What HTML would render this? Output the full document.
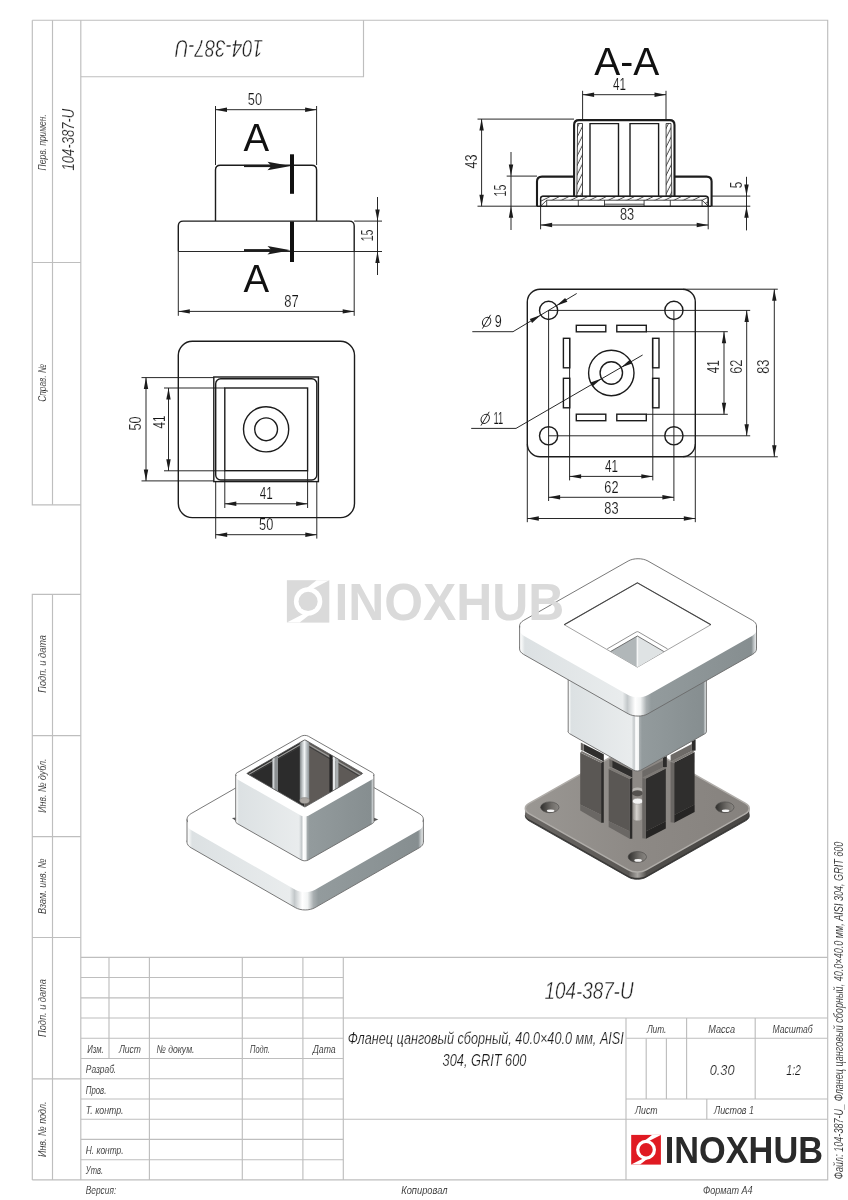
<!DOCTYPE html>
<html lang="ru"><head><meta charset="utf-8"><title>104-387-U</title>
<style>
html,body{margin:0;padding:0;background:#fff}
svg{display:block;will-change:transform}
.f{stroke:#bebebe;stroke-width:1.15;fill:none;shape-rendering:auto}
.t{stroke:#1c1c1c;stroke-width:.95;fill:none}
.o{stroke:#1c1c1c;stroke-width:1.4;fill:none}
.k{stroke:#1c1c1c;stroke-width:2.1;fill:none;stroke-linejoin:round}
.h{stroke:#1c1c1c;stroke-width:.8;fill:none}
.ar{fill:#1c1c1c;stroke:none}
.g{font-family:"Liberation Sans",sans-serif;font-style:italic;fill:#1f1f1f;stroke:#fff;stroke-width:.4}
.gs{font-family:"Liberation Sans",sans-serif;font-style:italic;fill:#1a1a1a;stroke:#fff;stroke-width:.12}
.gm{font-family:"Liberation Sans",sans-serif;font-style:italic;fill:#181818;stroke:#fff;stroke-width:.2}
.d{font-family:"Liberation Sans",sans-serif;fill:#141414;stroke:#fff;stroke-width:.16}
.n{font-family:"Liberation Sans",sans-serif;fill:#111}
.b{font-family:"Liberation Sans",sans-serif;font-weight:bold}
</style></head>
<body>
<svg width="848" height="1200" viewBox="0 0 848 1200">
<g class="f">
<path d="M32.3,20.2 H827.7 V1179.9 H32.3"/>
<line x1="80.8" y1="20.2" x2="80.8" y2="1179.9"/>
<path d="M32.3,20.2 V504.8 H80.8"/>
<line x1="52.5" y1="20.2" x2="52.5" y2="504.8"/>
<line x1="32.3" y1="262.5" x2="80.8" y2="262.5"/>
<path d="M80.8,594.3 H32.3 V1179.9"/>
<line x1="52.5" y1="594.3" x2="52.5" y2="1179.9"/>
<line x1="32.3" y1="735.6" x2="80.8" y2="735.6"/>
<line x1="32.3" y1="836.6" x2="80.8" y2="836.6"/>
<line x1="32.3" y1="937.5" x2="80.8" y2="937.5"/>
<line x1="32.3" y1="1078.9" x2="80.8" y2="1078.9"/>
<path d="M80.8,76.7 H363.5 V20.2"/>
<line x1="80.8" y1="957.3" x2="827.7" y2="957.3"/>
<line x1="80.8" y1="977.5" x2="343.3" y2="977.5"/>
<line x1="80.8" y1="997.8" x2="343.3" y2="997.8"/>
<line x1="80.8" y1="1018.0" x2="343.3" y2="1018.0"/>
<line x1="80.8" y1="1038.2" x2="343.3" y2="1038.2"/>
<line x1="80.8" y1="1058.5" x2="343.3" y2="1058.5"/>
<line x1="80.8" y1="1078.7" x2="343.3" y2="1078.7"/>
<line x1="80.8" y1="1099.0" x2="343.3" y2="1099.0"/>
<line x1="80.8" y1="1119.2" x2="343.3" y2="1119.2"/>
<line x1="80.8" y1="1139.4" x2="343.3" y2="1139.4"/>
<line x1="80.8" y1="1159.7" x2="343.3" y2="1159.7"/>
<line x1="109" y1="957.3" x2="109" y2="1058.5"/>
<line x1="149.4" y1="957.3" x2="149.4" y2="1179.9"/>
<line x1="242.3" y1="957.3" x2="242.3" y2="1179.9"/>
<line x1="302.9" y1="957.3" x2="302.9" y2="1179.9"/>
<line x1="343.3" y1="957.3" x2="343.3" y2="1179.9"/>
<line x1="343.3" y1="1018.0" x2="827.7" y2="1018.0"/>
<line x1="343.3" y1="1119.2" x2="827.7" y2="1119.2"/>
<line x1="626" y1="1018.0" x2="626" y2="1179.9"/>
<line x1="626" y1="1038.2" x2="827.7" y2="1038.2"/>
<line x1="626" y1="1099.0" x2="827.7" y2="1099.0"/>
<line x1="646.2" y1="1038.2" x2="646.2" y2="1099.0"/>
<line x1="666.4" y1="1038.2" x2="666.4" y2="1099.0"/>
<line x1="686.6" y1="1018.0" x2="686.6" y2="1099.0"/>
<line x1="755.2" y1="1018.0" x2="755.2" y2="1099.0"/>
<line x1="706.8" y1="1099.0" x2="706.8" y2="1119.2"/>
</g>
<text class="gs" transform="translate(45.6,170.4) rotate(-90)" font-size="11.5" text-anchor="start" textLength="56.2" lengthAdjust="spacingAndGlyphs">Перв. примен.</text>
<text class="gs" transform="translate(45.6,401.7) rotate(-90)" font-size="11.5" text-anchor="start" textLength="37.7" lengthAdjust="spacingAndGlyphs">Справ. №</text>
<text class="gs" transform="translate(45.6,692.8) rotate(-90)" font-size="11.5" text-anchor="start" textLength="57.8" lengthAdjust="spacingAndGlyphs">Подп. и дата</text>
<text class="gs" transform="translate(45.6,812.7) rotate(-90)" font-size="11.5" text-anchor="start" textLength="54.2" lengthAdjust="spacingAndGlyphs">Инв. № дубл.</text>
<text class="gs" transform="translate(45.6,914) rotate(-90)" font-size="11.5" text-anchor="start" textLength="55.5" lengthAdjust="spacingAndGlyphs">Взам. инв. №</text>
<text class="gs" transform="translate(45.6,1037) rotate(-90)" font-size="11.5" text-anchor="start" textLength="57.8" lengthAdjust="spacingAndGlyphs">Подп. и дата</text>
<text class="gs" transform="translate(45.6,1157) rotate(-90)" font-size="11.5" text-anchor="start" textLength="55.5" lengthAdjust="spacingAndGlyphs">Инв. № подл.</text>
<text class="gm" transform="translate(73.8,170.4) rotate(-90)" font-size="16.8" text-anchor="start" textLength="61.7" lengthAdjust="spacingAndGlyphs">104-387-U</text>
<text class="g" transform="translate(263,39.9) rotate(180)" font-size="23.7" text-anchor="start" textLength="88" lengthAdjust="spacingAndGlyphs">104-387-U</text>
<text class="gs" x="87.2" y="1053.08" font-size="11.5" text-anchor="start" textLength="16.5" lengthAdjust="spacingAndGlyphs">Изм.</text>
<text class="gs" x="118.9" y="1053.08" font-size="11.5" text-anchor="start" textLength="22" lengthAdjust="spacingAndGlyphs">Лист</text>
<text class="gs" x="156.5" y="1053.08" font-size="11.5" text-anchor="start" textLength="38" lengthAdjust="spacingAndGlyphs">№ докум.</text>
<text class="gs" x="250" y="1053.08" font-size="11.5" text-anchor="start" textLength="19.8" lengthAdjust="spacingAndGlyphs">Подп.</text>
<text class="gs" x="312.7" y="1053.08" font-size="11.5" text-anchor="start" textLength="23" lengthAdjust="spacingAndGlyphs">Дата</text>
<text class="gs" x="85.8" y="1073.3159999999998" font-size="11.5" text-anchor="start" textLength="30.4" lengthAdjust="spacingAndGlyphs">Разраб.</text>
<text class="gs" x="85.8" y="1093.552" font-size="11.5" text-anchor="start" textLength="20.5" lengthAdjust="spacingAndGlyphs">Пров.</text>
<text class="gs" x="85.8" y="1113.7879999999998" font-size="11.5" text-anchor="start" textLength="37.7" lengthAdjust="spacingAndGlyphs">Т. контр.</text>
<text class="gs" x="85.8" y="1154.2599999999998" font-size="11.5" text-anchor="start" textLength="37.7" lengthAdjust="spacingAndGlyphs">Н. контр.</text>
<text class="gs" x="85.8" y="1174.4959999999999" font-size="11.5" text-anchor="start" textLength="17.2" lengthAdjust="spacingAndGlyphs">Утв.</text>
<text class="gs" x="85.8" y="1194.1" font-size="11.5" text-anchor="start" textLength="30.4" lengthAdjust="spacingAndGlyphs">Версия:</text>
<text class="gs" x="401.2" y="1194.1" font-size="11.5" text-anchor="start" textLength="46.3" lengthAdjust="spacingAndGlyphs">Копировал</text>
<text class="gs" x="703" y="1194.1" font-size="11.5" text-anchor="start" textLength="49.6" lengthAdjust="spacingAndGlyphs">Формат A4</text>
<text class="gs" x="646.9" y="1032.8439999999998" font-size="11.5" text-anchor="start" textLength="19.5" lengthAdjust="spacingAndGlyphs">Лит.</text>
<text class="gs" x="708.2" y="1032.8439999999998" font-size="11.5" text-anchor="start" textLength="27" lengthAdjust="spacingAndGlyphs">Масса</text>
<text class="gs" x="772.6" y="1032.8439999999998" font-size="11.5" text-anchor="start" textLength="40" lengthAdjust="spacingAndGlyphs">Масштаб</text>
<text class="gs" x="635.1" y="1113.7879999999998" font-size="11.5" text-anchor="start" textLength="22.5" lengthAdjust="spacingAndGlyphs">Лист</text>
<text class="gs" x="714" y="1113.7879999999998" font-size="11.5" text-anchor="start" textLength="40" lengthAdjust="spacingAndGlyphs">Листов 1</text>
<text class="gm" x="709.7" y="1075.2" font-size="15.3" text-anchor="start" textLength="24.8" lengthAdjust="spacingAndGlyphs">0.30</text>
<text class="gm" x="786.3" y="1075.2" font-size="15.3" text-anchor="start" textLength="14.7" lengthAdjust="spacingAndGlyphs">1:2</text>
<text class="g" x="544.5" y="999" font-size="23.7" text-anchor="start" textLength="89" lengthAdjust="spacingAndGlyphs">104-387-U</text>
<text class="gm" x="347.8" y="1044.2" font-size="17.2" text-anchor="start" textLength="276" lengthAdjust="spacingAndGlyphs">Фланец цанговый сборный, 40.0×40.0 мм, AISI</text>
<text class="gm" x="442.6" y="1066.1" font-size="17.2" text-anchor="start" textLength="83.8" lengthAdjust="spacingAndGlyphs">304, GRIT 600</text>
<text class="gs" transform="translate(842.6,1179.2) rotate(-90)" font-size="12.6" text-anchor="start" textLength="337.6" lengthAdjust="spacingAndGlyphs">Файл: 104-387-U_ Фланец цанговый сборный, 40.0×40.0 мм, AISI 304, GRIT 600</text>
<g transform="translate(631.2,1134.9) scale(29.7)">
<rect width="1" height="1" fill="#e01a22"/>
<polygon points="0.70,0 1,0 0.5,0.26 0.5,0.5 0.19,0.40" fill="#fff"/>
<polygon points="0.30,1 0,1 0.5,0.74 0.5,0.5 0.81,0.60" fill="#fff"/>
<circle cx="0.5" cy="0.5" r="0.335" fill="#fff"/>
<circle cx="0.5" cy="0.5" r="0.225" fill="#e01a22"/>
</g>
<text class="b" x="664.7" y="1163" font-size="36.3" fill="#2a2a2a" textLength="158.3" lengthAdjust="spacingAndGlyphs">INOXHUB</text>
<path class="o" d="M215.5,221 V170 Q215.5,165.2 220.3,165.2 H311.8 Q316.6,165.2 316.6,170 V221"/>
<path class="o" d="M178.3,251.5 V226 Q178.3,221.1 183.2,221.1 H349.3 Q354.2,221.1 354.2,226 V251.5"/>
<line class="t" x1="178.3" y1="251.5" x2="382" y2="251.5"/>
<line class="t" x1="354.2" y1="221.1" x2="382" y2="221.1"/>
<line class="t" x1="178.3" y1="251.5" x2="178.3" y2="315.8"/>
<line class="t" x1="354.2" y1="251.5" x2="354.2" y2="315.8"/>
<line class="t" x1="178.3" y1="311.4" x2="354.2" y2="311.4"/>
<polygon class="ar" points="178.30,311.40 189.80,309.20 189.80,313.60"/>
<polygon class="ar" points="354.20,311.40 342.70,313.60 342.70,309.20"/>
<text class="d" x="291.4" y="306.7" font-size="16.8" text-anchor="middle" textLength="14.4" lengthAdjust="spacingAndGlyphs">87</text>
<line class="t" x1="215.5" y1="106" x2="215.5" y2="165"/>
<line class="t" x1="316.6" y1="106" x2="316.6" y2="165"/>
<line class="t" x1="215.5" y1="109.7" x2="316.6" y2="109.7"/>
<polygon class="ar" points="215.50,109.70 227.00,107.50 227.00,111.90"/>
<polygon class="ar" points="316.60,109.70 305.10,111.90 305.10,107.50"/>
<text class="d" x="254.9" y="105" font-size="16.8" text-anchor="middle" textLength="14.2" lengthAdjust="spacingAndGlyphs">50</text>
<line class="t" x1="377.5" y1="197" x2="377.5" y2="275"/>
<polygon class="ar" points="377.50,221.10 375.30,209.60 379.70,209.60"/>
<polygon class="ar" points="377.50,251.50 379.70,263.00 375.30,263.00"/>
<text class="d" transform="translate(372.8,235.4) rotate(-90)" font-size="16.8" text-anchor="middle" textLength="11.8" lengthAdjust="spacingAndGlyphs">15</text>
<line x1="244" y1="166" x2="272" y2="166" stroke="#1c1c1c" stroke-width="2.2"/>
<polygon class="ar" points="290.8,166 267.5,161.8 271.5,166 267.5,170.2"/>
<line x1="292" y1="154.3" x2="292" y2="193.8" stroke="#111" stroke-width="4"/>
<line x1="244" y1="250.2" x2="272" y2="250.2" stroke="#1c1c1c" stroke-width="2.2"/>
<polygon class="ar" points="290.8,250.2 267.5,246.0 271.5,250.2 267.5,254.39999999999998"/>
<line x1="292" y1="221.5" x2="292" y2="262" stroke="#111" stroke-width="4"/>
<text class="n" x="243.6" y="151.2" font-size="38.4">A</text>
<text class="n" x="243.6" y="292" font-size="38.4">A</text>
<text class="n" x="594.2" y="74.9" font-size="39">A-A</text>
<defs><pattern id="ht" width="10" height="4.2" patternUnits="userSpaceOnUse" patternTransform="rotate(-63.4)"><line x1="0" y1="2" x2="10" y2="2" stroke="#1c1c1c" stroke-width=".8"/></pattern><pattern id="ht2" width="10" height="4.2" patternUnits="userSpaceOnUse" patternTransform="rotate(-26.6)"><line x1="0" y1="2" x2="10" y2="2" stroke="#1c1c1c" stroke-width=".8"/></pattern></defs>
<path d="M577.6,123.5 H582.5 V196.2 H576.8 Z" style="fill:url(#ht)" class="h"/>
<path d="M671,123.5 H666.1 V196.2 H671.8 Z" style="fill:url(#ht)" class="h"/>
<path d="M540.6,206.2 V198.4 Q540.6,196.2 542.8,196.2 H706 Q708.2,196.2 708.2,198.4 V206.2 L702.1,200.2 H546.7 Z" style="fill:url(#ht2)" class="h"/>
<path class="o" d="M540.6,206.2 V198.4 Q540.6,196.2 542.8,196.2 H706 Q708.2,196.2 708.2,198.4 V206.2"/>
<line class="h" x1="546.7" y1="200.2" x2="546.7" y2="206.2"/>
<line class="h" x1="578.3" y1="200.2" x2="578.3" y2="206.2"/>
<line class="h" x1="604.5" y1="200.2" x2="604.5" y2="206.2"/>
<line class="h" x1="644.1" y1="200.2" x2="644.1" y2="206.2"/>
<line class="h" x1="670.3" y1="200.2" x2="670.3" y2="206.2"/>
<line class="h" x1="702.1" y1="200.2" x2="702.1" y2="206.2"/>
<line class="h" x1="604.5" y1="204.2" x2="644.1" y2="204.2"/>
<path class="o" d="M590,196.2 V123.6 H618.5 V196.2 M630,196.2 V123.6 H658.6 V196.2"/>
<path class="k" d="M537,206.2 V181.6 Q537,176.6 542,176.6 H574.1 M711.6,206.2 V181.6 Q711.6,176.6 706.6,176.6 H674.5 M574.1,196.2 V125 Q574.1,120.1 579,120.1 H669.6 Q674.5,120.1 674.5,125 V196.2"/>
<line class="o" x1="537" y1="206.2" x2="711.6" y2="206.2"/>
<line class="t" x1="582.6" y1="90.8" x2="582.6" y2="120"/>
<line class="t" x1="666" y1="90.8" x2="666" y2="120"/>
<line class="t" x1="582.6" y1="94.7" x2="666" y2="94.7"/>
<polygon class="ar" points="582.60,94.70 594.10,92.50 594.10,96.90"/>
<polygon class="ar" points="666.00,94.70 654.50,96.90 654.50,92.50"/>
<text class="d" x="619.4" y="89.8" font-size="16.8" text-anchor="middle" textLength="13" lengthAdjust="spacingAndGlyphs">41</text>
<line class="t" x1="477.5" y1="119.1" x2="574" y2="119.1"/>
<line class="t" x1="477.5" y1="206.2" x2="537" y2="206.2"/>
<line class="t" x1="481.6" y1="119.1" x2="481.6" y2="206.2"/>
<polygon class="ar" points="481.60,119.10 483.80,130.60 479.40,130.60"/>
<polygon class="ar" points="481.60,206.20 479.40,194.70 483.80,194.70"/>
<text class="d" transform="translate(477,161.5) rotate(-90)" font-size="16.8" text-anchor="middle" textLength="14" lengthAdjust="spacingAndGlyphs">43</text>
<line class="t" x1="506.7" y1="176.1" x2="537" y2="176.1"/>
<line class="t" x1="511" y1="152" x2="511" y2="230"/>
<polygon class="ar" points="511.00,176.10 508.80,164.60 513.20,164.60"/>
<polygon class="ar" points="511.00,206.20 513.20,217.70 508.80,217.70"/>
<text class="d" transform="translate(506.2,190.5) rotate(-90)" font-size="16.8" text-anchor="middle" textLength="11.8" lengthAdjust="spacingAndGlyphs">15</text>
<line class="t" x1="711.6" y1="196.1" x2="750.3" y2="196.1"/>
<line class="t" x1="711.6" y1="206.2" x2="750.3" y2="206.2"/>
<line class="t" x1="746.5" y1="176.8" x2="746.5" y2="230.4"/>
<polygon class="ar" points="746.50,196.10 744.30,184.60 748.70,184.60"/>
<polygon class="ar" points="746.50,206.20 748.70,217.70 744.30,217.70"/>
<text class="d" transform="translate(741.5,185) rotate(-90)" font-size="16.8" text-anchor="middle" textLength="6.5" lengthAdjust="spacingAndGlyphs">5</text>
<line class="t" x1="540.6" y1="206.2" x2="540.6" y2="229.3"/>
<line class="t" x1="708.2" y1="206.2" x2="708.2" y2="229.3"/>
<line class="t" x1="540.6" y1="225" x2="708.2" y2="225"/>
<polygon class="ar" points="540.60,225.00 552.10,222.80 552.10,227.20"/>
<polygon class="ar" points="708.20,225.00 696.70,227.20 696.70,222.80"/>
<text class="d" x="627" y="220.4" font-size="16.8" text-anchor="middle" textLength="14.2" lengthAdjust="spacingAndGlyphs">83</text>
<rect class="o" x="178.3" y="341.3" width="176.2" height="176.3" rx="14" ry="14"/>
<rect class="o" x="213.8" y="377" width="104.6" height="104.6"/>
<rect class="o" x="215.7" y="378.8" width="101.1" height="101.2" rx="5" ry="5"/>
<rect class="o" x="224.8" y="388" width="82.8" height="82.7"/>
<circle class="o" cx="266.1" cy="429.3" r="22.6"/><circle class="o" cx="266.1" cy="429.3" r="11.4"/>
<line class="t" x1="141.5" y1="377.6" x2="214" y2="377.6"/>
<line class="t" x1="141.5" y1="480.9" x2="214" y2="480.9"/>
<line class="t" x1="146" y1="377.6" x2="146" y2="480.9"/>
<polygon class="ar" points="146.00,377.60 148.20,389.10 143.80,389.10"/>
<polygon class="ar" points="146.00,480.90 143.80,469.40 148.20,469.40"/>
<text class="d" transform="translate(141.3,423.5) rotate(-90)" font-size="16.8" text-anchor="middle" textLength="14.2" lengthAdjust="spacingAndGlyphs">50</text>
<line class="t" x1="164" y1="388" x2="225" y2="388"/>
<line class="t" x1="164" y1="470.8" x2="225" y2="470.8"/>
<line class="t" x1="168.5" y1="388" x2="168.5" y2="470.8"/>
<polygon class="ar" points="168.50,388.00 170.70,399.50 166.30,399.50"/>
<polygon class="ar" points="168.50,470.80 166.30,459.30 170.70,459.30"/>
<text class="d" transform="translate(165,422) rotate(-90)" font-size="16.8" text-anchor="middle" textLength="13" lengthAdjust="spacingAndGlyphs">41</text>
<line class="t" x1="224.8" y1="470.8" x2="224.8" y2="508"/>
<line class="t" x1="307.6" y1="470.8" x2="307.6" y2="508"/>
<line class="t" x1="224.8" y1="503.8" x2="307.6" y2="503.8"/>
<polygon class="ar" points="224.80,503.80 236.30,501.60 236.30,506.00"/>
<polygon class="ar" points="307.60,503.80 296.10,506.00 296.10,501.60"/>
<text class="d" x="266.2" y="498.8" font-size="16.8" text-anchor="middle" textLength="13" lengthAdjust="spacingAndGlyphs">41</text>
<line class="t" x1="215.7" y1="481" x2="215.7" y2="538.6"/>
<line class="t" x1="316.8" y1="481" x2="316.8" y2="538.6"/>
<line class="t" x1="215.7" y1="534.7" x2="316.8" y2="534.7"/>
<polygon class="ar" points="215.70,534.70 227.20,532.50 227.20,536.90"/>
<polygon class="ar" points="316.80,534.70 305.30,536.90 305.30,532.50"/>
<text class="d" x="266.2" y="530" font-size="16.8" text-anchor="middle" textLength="14.2" lengthAdjust="spacingAndGlyphs">50</text>
<rect class="o" x="527.3" y="289.2" width="168" height="167.6" rx="12.7" ry="12.7"/>
<circle class="o" cx="548.6" cy="310.4" r="9.1"/>
<circle class="o" cx="548.6" cy="435.8" r="9.1"/>
<circle class="o" cx="673.9" cy="310.4" r="9.1"/>
<circle class="o" cx="673.9" cy="435.8" r="9.1"/>
<circle class="o" cx="611.3" cy="373.0" r="22.7"/><circle class="o" cx="611.3" cy="373.0" r="11.2"/>
<rect class="o" x="576.3" y="325.3" width="29.5" height="6.5"/>
<rect class="o" x="616.8" y="325.3" width="29.5" height="6.5"/>
<rect class="o" x="576.3" y="414.2" width="29.5" height="6.5"/>
<rect class="o" x="616.8" y="414.2" width="29.5" height="6.5"/>
<rect class="o" x="563.4" y="338.3" width="6.4" height="29.5"/>
<rect class="o" x="563.4" y="378.3" width="6.4" height="29.5"/>
<rect class="o" x="652.6" y="338.3" width="6.4" height="29.5"/>
<rect class="o" x="652.6" y="378.3" width="6.4" height="29.5"/>
<line class="t" x1="548.6" y1="310.4" x2="750.2" y2="310.4"/>
<line class="t" x1="548.6" y1="435.8" x2="750.2" y2="435.8"/>
<line class="t" x1="746.7" y1="310.4" x2="746.7" y2="435.8"/>
<polygon class="ar" points="746.70,310.40 748.90,321.90 744.50,321.90"/>
<polygon class="ar" points="746.70,435.80 744.50,424.30 748.90,424.30"/>
<line class="t" x1="646.3" y1="331.7" x2="727.8" y2="331.7"/>
<line class="t" x1="646.3" y1="414.3" x2="727.8" y2="414.3"/>
<line class="t" x1="724" y1="331.7" x2="724" y2="414.3"/>
<polygon class="ar" points="724.00,331.70 726.20,343.20 721.80,343.20"/>
<polygon class="ar" points="724.00,414.30 721.80,402.80 726.20,402.80"/>
<line class="t" x1="683" y1="289.2" x2="777.8" y2="289.2"/>
<line class="t" x1="683" y1="456.8" x2="777.8" y2="456.8"/>
<line class="t" x1="774.3" y1="289.2" x2="774.3" y2="456.8"/>
<polygon class="ar" points="774.30,289.20 776.50,300.70 772.10,300.70"/>
<polygon class="ar" points="774.30,456.80 772.10,445.30 776.50,445.30"/>
<text class="d" transform="translate(719.3,366.7) rotate(-90)" font-size="16.8" text-anchor="middle" textLength="13" lengthAdjust="spacingAndGlyphs">41</text>
<text class="d" transform="translate(742.2,366.7) rotate(-90)" font-size="16.8" text-anchor="middle" textLength="14.2" lengthAdjust="spacingAndGlyphs">62</text>
<text class="d" transform="translate(769.3,366.7) rotate(-90)" font-size="16.8" text-anchor="middle" textLength="14.2" lengthAdjust="spacingAndGlyphs">83</text>
<line class="t" x1="569.6" y1="338.3" x2="569.6" y2="480.4"/>
<line class="t" x1="652.8" y1="338.3" x2="652.8" y2="480.4"/>
<line class="t" x1="569.6" y1="476.4" x2="652.8" y2="476.4"/>
<polygon class="ar" points="569.60,476.40 581.10,474.20 581.10,478.60"/>
<polygon class="ar" points="652.80,476.40 641.30,478.60 641.30,474.20"/>
<text class="d" x="611.4" y="471.8" font-size="16.8" text-anchor="middle" textLength="13" lengthAdjust="spacingAndGlyphs">41</text>
<line class="t" x1="548.6" y1="310.4" x2="548.6" y2="501"/>
<line class="t" x1="673.9" y1="310.4" x2="673.9" y2="501"/>
<line class="t" x1="548.6" y1="497.3" x2="673.9" y2="497.3"/>
<polygon class="ar" points="548.60,497.30 560.10,495.10 560.10,499.50"/>
<polygon class="ar" points="673.90,497.30 662.40,499.50 662.40,495.10"/>
<text class="d" x="611.4" y="492.8" font-size="16.8" text-anchor="middle" textLength="14.2" lengthAdjust="spacingAndGlyphs">62</text>
<line class="t" x1="527.3" y1="444" x2="527.3" y2="522.2"/>
<line class="t" x1="695.3" y1="444" x2="695.3" y2="522.2"/>
<line class="t" x1="527.3" y1="518.5" x2="695.3" y2="518.5"/>
<polygon class="ar" points="527.30,518.50 538.80,516.30 538.80,520.70"/>
<polygon class="ar" points="695.30,518.50 683.80,520.70 683.80,516.30"/>
<text class="d" x="611.4" y="514" font-size="16.8" text-anchor="middle" textLength="14.2" lengthAdjust="spacingAndGlyphs">83</text>
<path class="t" d="M472.3,331.7 H513 L576.7,293.5"/>
<polygon class="ar" points="540.80,315.08 532.06,322.88 529.80,319.11"/>
<polygon class="ar" points="556.40,305.72 565.14,297.92 567.40,301.69"/>
<path class="t" d="M471.2,428.4 H516 L642.6,355"/>
<polygon class="ar" points="601.61,378.62 592.77,386.29 590.56,382.48"/>
<polygon class="ar" points="620.99,367.38 629.83,359.71 632.04,363.52"/>
<g class="t" transform="translate(480.2,327.4)"><ellipse cx="5.2" cy="-5.6" rx="4.1" ry="4.6" transform="skewX(-12)"/><line x1="2.2" y1="1.2" x2="10.4" y2="-12.6"/></g>
<text class="d" x="494.8" y="327.4" font-size="16.8" text-anchor="start" textLength="7" lengthAdjust="spacingAndGlyphs">9</text>
<g class="t" transform="translate(478.8,424.4)"><ellipse cx="5.2" cy="-5.6" rx="4.1" ry="4.6" transform="skewX(-12)"/><line x1="2.2" y1="1.2" x2="10.4" y2="-12.6"/></g>
<text class="d" x="493.40000000000003" y="424.4" font-size="16.8" text-anchor="start" textLength="9.8" lengthAdjust="spacingAndGlyphs">11</text>
<defs>
<linearGradient id="gB1" gradientUnits="userSpaceOnUse" x1="186.9" y1="0" x2="423.4" y2="0"><stop offset="0" stop-color="#ffffff"/><stop offset="0.01" stop-color="#f3f5f5"/><stop offset="0.022" stop-color="#dce1e3"/><stop offset="0.435" stop-color="#e9eced"/><stop offset="0.455" stop-color="#c3c8ca"/><stop offset="0.488" stop-color="#ffffff"/><stop offset="0.51" stop-color="#f2f4f4"/><stop offset="0.535" stop-color="#a9afb1"/><stop offset="0.555" stop-color="#939b9d"/><stop offset="0.978" stop-color="#868e90"/><stop offset="0.99" stop-color="#c4c9cb"/><stop offset="1" stop-color="#eef0f0"/></linearGradient>
<linearGradient id="gT1" gradientUnits="userSpaceOnUse" x1="235.7" y1="0" x2="373.9" y2="0"><stop offset="0" stop-color="#ffffff"/><stop offset="0.01" stop-color="#f3f5f5"/><stop offset="0.022" stop-color="#dce1e3"/><stop offset="0.45799999999999996" stop-color="#e9eced"/><stop offset="0.478" stop-color="#c3c8ca"/><stop offset="0.489" stop-color="#ffffff"/><stop offset="0.511" stop-color="#f2f4f4"/><stop offset="0.514" stop-color="#a9afb1"/><stop offset="0.534" stop-color="#939b9d"/><stop offset="0.978" stop-color="#868e90"/><stop offset="0.99" stop-color="#c4c9cb"/><stop offset="1" stop-color="#eef0f0"/></linearGradient>
<linearGradient id="gB2" gradientUnits="userSpaceOnUse" x1="519.6" y1="0" x2="756.5" y2="0"><stop offset="0" stop-color="#ffffff"/><stop offset="0.01" stop-color="#f3f5f5"/><stop offset="0.022" stop-color="#dce1e3"/><stop offset="0.435" stop-color="#e9eced"/><stop offset="0.455" stop-color="#c3c8ca"/><stop offset="0.488" stop-color="#ffffff"/><stop offset="0.51" stop-color="#f2f4f4"/><stop offset="0.535" stop-color="#a9afb1"/><stop offset="0.555" stop-color="#939b9d"/><stop offset="0.978" stop-color="#868e90"/><stop offset="0.99" stop-color="#c4c9cb"/><stop offset="1" stop-color="#eef0f0"/></linearGradient>
<linearGradient id="gT2" gradientUnits="userSpaceOnUse" x1="568.2" y1="0" x2="706.4" y2="0"><stop offset="0" stop-color="#ffffff"/><stop offset="0.01" stop-color="#f3f5f5"/><stop offset="0.022" stop-color="#dce1e3"/><stop offset="0.45799999999999996" stop-color="#e9eced"/><stop offset="0.478" stop-color="#c3c8ca"/><stop offset="0.489" stop-color="#ffffff"/><stop offset="0.511" stop-color="#f2f4f4"/><stop offset="0.514" stop-color="#a9afb1"/><stop offset="0.534" stop-color="#939b9d"/><stop offset="0.978" stop-color="#868e90"/><stop offset="0.99" stop-color="#c4c9cb"/><stop offset="1" stop-color="#eef0f0"/></linearGradient>
<linearGradient id="gCyl" gradientUnits="userSpaceOnUse" x1="299.8" y1="0" x2="309.2" y2="0"><stop offset="0" stop-color="#7f8587"/><stop offset="0.3" stop-color="#c9ced0"/><stop offset="0.5" stop-color="#f0f3f4"/><stop offset="0.75" stop-color="#b7bdc0"/><stop offset="1" stop-color="#8e9497"/></linearGradient>
<linearGradient id="gPl" gradientUnits="userSpaceOnUse" x1="525" y1="0" x2="750" y2="0"><stop offset="0" stop-color="#9a9793"/><stop offset="0.5" stop-color="#8d8985"/><stop offset="1" stop-color="#86827e"/></linearGradient>
<linearGradient id="gPs" gradientUnits="userSpaceOnUse" x1="525" y1="0" x2="750" y2="0"><stop offset="0" stop-color="#6a6764"/><stop offset="0.46" stop-color="#5a5754"/><stop offset="0.5" stop-color="#a9a6a2"/><stop offset="0.54" stop-color="#504e4b"/><stop offset="1" stop-color="#484644"/></linearGradient>
<linearGradient id="gBoss" gradientUnits="userSpaceOnUse" x1="632.4" y1="0" x2="643" y2="0"><stop offset="0" stop-color="#8b8884"/><stop offset="0.4" stop-color="#d4d1cd"/><stop offset="1" stop-color="#8f8c88"/></linearGradient>
<linearGradient id="gHole" x1="0" y1="0" x2="1" y2="0"><stop offset="0" stop-color="#2f2e2c"/><stop offset=".6" stop-color="#6f6c68"/><stop offset="1" stop-color="#8a8783"/></linearGradient>
</defs>
<path d="M315.12,776.60 L419.28,836.40 C424.76,839.55 424.76,844.65 419.28,847.80 L315.12,907.60 C309.64,910.75 300.76,910.75 295.28,907.60 L191.12,847.80 C185.64,844.65 185.64,839.55 191.12,836.40 L295.28,776.60 C300.76,773.45 309.64,773.45 315.12,776.60 Z" fill="url(#gB1)" stroke="#6a6a6a" stroke-width="0.9" />
<rect x="187.0" y="824.3" width="236.4" height="17.8" fill="url(#gB1)"/>
<path d="M315.12,753.80 L419.28,813.60 C424.76,816.75 424.76,821.85 419.28,825.00 L315.12,884.80 C309.64,887.95 300.76,887.95 295.28,884.80 L191.12,825.00 C185.64,821.85 185.64,816.75 191.12,813.60 L295.28,753.80 C300.76,750.65 309.64,750.65 315.12,753.80 Z" fill="#ffffff" stroke="#6a6a6a" stroke-width="0.9" />
<path d="M315.12,758.80 L419.28,818.60 C424.76,821.75 424.76,826.85 419.28,830.00 L315.12,889.80 C309.64,892.95 300.76,892.95 295.28,889.80 L191.12,830.00 C185.64,826.85 185.64,821.75 191.12,818.60 L295.28,758.80 C300.76,755.65 309.64,755.65 315.12,758.80 Z" fill="#ffffff" stroke="none" stroke-width="0.8" />
<path d="M187.0,819.3 V842.0999999999999 M423.4,819.3 V842.0999999999999" stroke="#6a6a6a" stroke-width=".9" fill="none"/>
<polygon points="231.9,818 236.6,817.6 236.6,821.6" fill="#555"/><polygon points="373.4,817.6 378.3,819.4 373.4,821.6" fill="#555"/>
<path d="M308.36,783.02 L372.44,819.48 C374.41,820.59 374.41,822.41 372.44,823.52 L308.36,859.98 C306.39,861.09 303.21,861.09 301.24,859.98 L237.16,823.52 C235.19,822.41 235.19,820.59 237.16,819.48 L301.24,783.02 C303.21,781.91 306.39,781.91 308.36,783.02 Z" fill="url(#gT1)" stroke="#6a6a6a" stroke-width="0.9" />
<rect x="235.7" y="777.2" width="138.2" height="44.3" fill="url(#gT1)"/>
<path d="M308.36,736.23 L372.44,772.68 C374.41,773.79 374.41,775.61 372.44,776.73 L308.36,813.18 C306.39,814.29 303.21,814.29 301.24,813.18 L237.16,776.73 C235.19,775.61 235.19,773.79 237.16,772.68 L301.24,736.23 C303.21,735.11 306.39,735.11 308.36,736.23 Z" fill="#ffffff" stroke="#6a6a6a" stroke-width="0.9" />
<path d="M308.36,738.73 L372.44,775.18 C374.41,776.29 374.41,778.11 372.44,779.23 L308.36,815.68 C306.39,816.79 303.21,816.79 301.24,815.68 L237.16,779.23 C235.19,778.11 235.19,776.29 237.16,775.18 L301.24,738.73 C303.21,737.61 306.39,737.61 308.36,738.73 Z" fill="#ffffff" stroke="none" stroke-width="0.8" />
<path d="M235.7,774.7 V821.5 M373.9,774.7 V821.5" stroke="#6a6a6a" stroke-width=".9" fill="none"/>
<clipPath id="cO1"><rect x="-1" y="-1" width="2" height="2" rx=".03" transform="matrix(29.1,16.85,-29.1,16.85,304.8,773.4)"/></clipPath>
<g clip-path="url(#cO1)">
<rect x="240" y="735" width="64.6" height="80" fill="#2c2c2c"/>
<rect x="304.6" y="735" width="65" height="80" fill="#5e5a57"/>
<path d="M246.6,775.6 L304.6,742.2 L363,776.4" stroke="#9b9b99" stroke-width="1.2" fill="none"/>
<path d="M246.6,777.4 L304.6,744 L363,778.2" stroke="#3b3b3b" stroke-width="1" fill="none"/>
<rect x="272.4" y="735" width="2.4" height="80" fill="#cfd3d5"/><rect x="274.8" y="735" width="3.2" height="80" fill="#8c9092"/>
<rect x="329.4" y="735" width="3.2" height="80" fill="#272727"/><rect x="332.8" y="735" width="2.6" height="80" fill="#e4e7e8"/><rect x="335.4" y="735" width="3" height="80" fill="#a9aeb0"/>
<rect x="299.8" y="735" width="9.4" height="66" fill="url(#gCyl)"/>
<ellipse cx="304.6" cy="800.6" rx="4.8" ry="3" fill="#aaa6a2" stroke="#7d7a77" stroke-width=".5"/>
</g>
<rect x="-1" y="-1" width="2" height="2" rx=".03" transform="matrix(29.1,16.85,-29.1,16.85,304.8,773.4)" fill="none" stroke="#555" stroke-width=".8" vector-effect="non-scaling-stroke"/>
<path d="M646.21,754.45 L745.59,810.75 C750.51,813.54 750.51,818.06 745.59,820.85 L646.21,877.15 C641.29,879.94 633.31,879.94 628.39,877.15 L529.01,820.85 C524.09,818.06 524.09,813.54 529.01,810.75 L628.39,754.45 C633.31,751.66 641.29,751.66 646.21,754.45 Z" fill="#3a3937" stroke="#2d2d2d" stroke-width="0.8" />
<path d="M646.21,752.95 L745.59,809.25 C750.51,812.04 750.51,816.56 745.59,819.35 L646.21,875.65 C641.29,878.44 633.31,878.44 628.39,875.65 L529.01,819.35 C524.09,816.56 524.09,812.04 529.01,809.25 L628.39,752.95 C633.31,750.16 641.29,750.16 646.21,752.95 Z" fill="url(#gPs)" stroke="none" stroke-width="0.8" />
<rect x="525.3" y="808.5" width="224.0" height="5.8" fill="url(#gPs)"/>
<path d="M646.21,747.15 L745.59,803.45 C750.51,806.24 750.51,810.76 745.59,813.55 L646.21,869.85 C641.29,872.64 633.31,872.64 628.39,869.85 L529.01,813.55 C524.09,810.76 524.09,806.24 529.01,803.45 L628.39,747.15 C633.31,744.36 641.29,744.36 646.21,747.15 Z" fill="url(#gPl)" stroke="#b0ada9" stroke-width="1.5" />
<ellipse cx="549.8" cy="807.3" rx="9.2" ry="5.4" fill="url(#gHole)" stroke="#4a4846" stroke-width=".6"/>
<ellipse cx="550.6" cy="810.8" rx="3.8" ry="1.3" fill="#f4f4f4"/>
<ellipse cx="724.8" cy="807.3" rx="9.2" ry="5.4" fill="url(#gHole)" stroke="#4a4846" stroke-width=".6"/>
<ellipse cx="725.6" cy="810.8" rx="3.8" ry="1.3" fill="#f4f4f4"/>
<ellipse cx="637.3" cy="856.9" rx="9.2" ry="5.4" fill="url(#gHole)" stroke="#4a4846" stroke-width=".6"/>
<ellipse cx="638.1" cy="860.4" rx="3.8" ry="1.3" fill="#f4f4f4"/>
<ellipse cx="637.5" cy="790.6" rx="5.6" ry="3.2" fill="#b9b6b2"/><ellipse cx="637.5" cy="793.2" rx="5.4" ry="3" fill="#55524f"/>
<path d="M632.4,801.2 V817.6 A5.3,3 0 0 0 643,817.6 V801.2 Z" fill="url(#gBoss)"/>
<ellipse cx="637.7" cy="801.2" rx="5.3" ry="3" fill="#f3f3f3" stroke="#9a9793" stroke-width=".6"/>
<polygon points="583.7,744.0 603.8,754.3 603.8,761.4 583.7,751.1" fill="#2f2e2d"/>
<polygon points="580.8,742.5 583.7,744.0 583.7,751.1 580.8,750.0" fill="#6b6865"/>
<polygon points="601.1,762.8 603.8,761.6 603.8,822.7 601.1,822.7" fill="#2c2b2a"/>
<polygon points="580.2,752.5 601.1,762.8 601.1,814.8 580.2,804.5" fill="#5a5754"/>
<polygon points="581.8,751.1 603.0,761.4 601.1,762.8 580.2,752.5" fill="#7c7975"/>
<polygon points="580.2,804.5 601.1,814.8 601.1,822.7 580.2,810.5" fill="#6a6764"/>
<polygon points="670.6,755.0 691.8,744.0 691.8,751.0 670.6,762.0" fill="#6d6a67"/>
<polygon points="691.8,741.0 695.6,739.5 695.6,750.5 691.8,751.0" fill="#2c2b2a"/>
<polygon points="670.6,762.0 674.3,762.4 674.3,822.7 670.6,822.2" fill="#6a6764"/>
<polygon points="674.3,762.4 694.6,752.0 694.6,804.6 674.3,815.0" fill="#2f2e2d"/>
<polygon points="671.1,761.2 692.6,750.4 694.6,752.0 674.3,762.4" fill="#7c7975"/>
<polygon points="674.3,815.0 694.6,804.6 694.6,811.9 674.3,822.7" fill="#252423"/>
<polygon points="612.2,760.5 632.3,770.4 632.3,777.5 612.2,767.6" fill="#2f2e2d"/>
<polygon points="609.3,759.0 612.2,760.5 612.2,767.6 609.3,766.5" fill="#6b6865"/>
<polygon points="629.6,778.9 632.3,777.7 632.3,838.8 629.6,838.8" fill="#2c2b2a"/>
<polygon points="608.7,769.0 629.6,778.9 629.6,831.2 608.7,821.3" fill="#5a5754"/>
<polygon points="610.3,767.6 631.5,777.5 629.6,778.9 608.7,769.0" fill="#7c7975"/>
<polygon points="608.7,821.3 629.6,831.2 629.6,838.8 608.7,827.0" fill="#6a6764"/>
<polygon points="642.3,771.0 663.0,760.5 663.0,767.5 642.3,778.0" fill="#6d6a67"/>
<polygon points="663.0,757.5 666.8,756.0 666.8,767.0 663.0,767.5" fill="#2c2b2a"/>
<polygon points="642.3,778.0 646.0,778.4 646.0,838.8 642.3,838.3" fill="#6a6764"/>
<polygon points="646.0,778.4 665.8,768.5 665.8,821.3 646.0,831.2" fill="#2f2e2d"/>
<polygon points="642.8,777.2 663.8,766.9 665.8,768.5 646.0,778.4" fill="#7c7975"/>
<polygon points="646.0,831.2 665.8,821.3 665.8,828.4 646.0,838.8" fill="#252423"/>
<path d="M640.86,693.23 L704.94,729.68 C706.91,730.79 706.91,732.61 704.94,733.73 L640.86,770.18 C638.89,771.29 635.71,771.29 633.74,770.18 L569.66,733.73 C567.69,732.61 567.69,730.79 569.66,729.68 L633.74,693.23 C635.71,692.11 638.89,692.11 640.86,693.23 Z" fill="url(#gT2)" stroke="#6a6a6a" stroke-width="0.9" />
<rect x="568.2" y="674.5" width="138.2" height="57.2" fill="url(#gT2)"/>
<path d="M640.86,633.52 L704.94,669.98 C706.91,671.09 706.91,672.91 704.94,674.02 L640.86,710.48 C638.89,711.59 635.71,711.59 633.74,710.48 L569.66,674.02 C567.69,672.91 567.69,671.09 569.66,669.98 L633.74,633.52 C635.71,632.41 638.89,632.41 640.86,633.52 Z" fill="#ffffff" stroke="#6a6a6a" stroke-width="0.9" />
<path d="M640.86,636.02 L704.94,672.48 C706.91,673.59 706.91,675.41 704.94,676.52 L640.86,712.98 C638.89,714.09 635.71,714.09 633.74,712.98 L569.66,676.52 C567.69,675.41 567.69,673.59 569.66,672.48 L633.74,636.02 C635.71,634.91 638.89,634.91 640.86,636.02 Z" fill="#ffffff" stroke="none" stroke-width="0.8" />
<path d="M568.2,672 V731.7 M706.4,672 V731.7" stroke="#6a6a6a" stroke-width=".9" fill="none"/>
<path d="M647.99,583.85 L752.41,643.15 C757.90,646.27 757.90,651.33 752.41,654.45 L647.99,713.75 C642.50,716.87 633.60,716.87 628.11,713.75 L523.69,654.45 C518.20,651.33 518.20,646.27 523.69,643.15 L628.11,583.85 C633.60,580.73 642.50,580.73 647.99,583.85 Z" fill="url(#gB2)" stroke="#6a6a6a" stroke-width="0.9" />
<rect x="519.6" y="630" width="236.9" height="18.8" fill="url(#gB2)"/>
<path d="M647.99,561.05 L752.41,620.35 C757.90,623.47 757.90,628.53 752.41,631.65 L647.99,690.95 C642.50,694.07 633.60,694.07 628.11,690.95 L523.69,631.65 C518.20,628.53 518.20,623.47 523.69,620.35 L628.11,561.05 C633.60,557.93 642.50,557.93 647.99,561.05 Z" fill="#ffffff" stroke="#6a6a6a" stroke-width="0.9" />
<path d="M647.99,565.05 L752.41,624.35 C757.90,627.47 757.90,632.53 752.41,635.65 L647.99,694.95 C642.50,698.07 633.60,698.07 628.11,694.95 L523.69,635.65 C518.20,632.53 518.20,627.47 523.69,624.35 L628.11,565.05 C633.60,561.93 642.50,561.93 647.99,565.05 Z" fill="#ffffff" stroke="none" stroke-width="0.8" />
<path d="M519.6,626 V648.8 M756.5,626 V648.8" stroke="#6a6a6a" stroke-width=".9" fill="none"/>
<polygon points="564.2,624.7 637.4,582.8 710.9,624.7 637.4,667.2" fill="#fff" stroke="#8a8a8a" stroke-width=".8"/>
<path d="M564.2,624.7 L637.4,582.8 L710.9,624.7" stroke="#444" stroke-width="1.1" fill="none"/>
<path d="M607.2,648.9 L636.2,632 Q637.4,631.3 638.6,632 L667.5,648.9" stroke="#777" stroke-width=".8" fill="none"/>
<polygon points="610.6,651.5 637.4,636 637.4,667.2" fill="#b1b7b9"/>
<polygon points="663.8,651.5 637.4,636 637.4,667.2" fill="#dfe3e4"/>
<path d="M610.6,651.5 L637.4,636 L663.8,651.5" stroke="#555" stroke-width=".8" fill="none"/>
<line x1="637.4" y1="637" x2="637.4" y2="666.5" stroke="#f5f6f6" stroke-width="1.6"/>
<g transform="translate(286.9,580.2) scale(42.4)">
<rect width="1" height="1" fill="#dadada"/>
<polygon points="0.70,0 1,0 0.5,0.26 0.5,0.5 0.19,0.40" fill="#fff"/>
<polygon points="0.30,1 0,1 0.5,0.74 0.5,0.5 0.81,0.60" fill="#fff"/>
<circle cx="0.5" cy="0.5" r="0.335" fill="#fff"/>
<circle cx="0.5" cy="0.5" r="0.225" fill="#dadada"/>
</g>
<text class="b" x="334.4" y="620.3" font-size="52" fill="#dadada" textLength="230" lengthAdjust="spacingAndGlyphs">INOXHUB</text>
</svg>
</body></html>
